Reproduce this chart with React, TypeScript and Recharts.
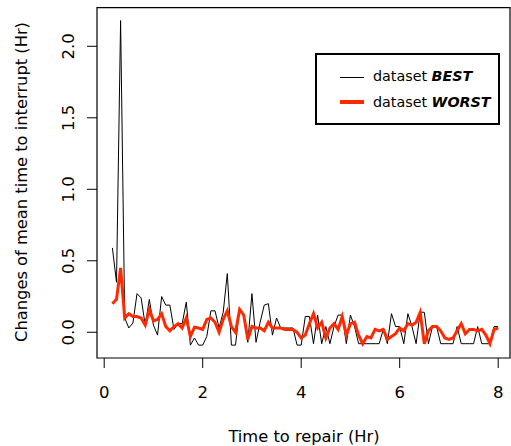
import React from 'react'
import {
  LineChart, Line, XAxis, YAxis, ReferenceArea, Legend,
} from 'recharts'

// time to repair, in minutes (converted to hours below)
const TIME_MIN = [
  10, 15, 20, 25, 30, 35, 40, 45, 50, 55,
  60, 65, 70, 75, 80, 85, 90, 95, 100, 105,
  110, 115, 120, 125, 130, 135, 140, 145, 150, 155,
  160, 165, 170, 175, 180, 185, 190, 195, 200, 205,
  210, 215, 220, 225, 230, 235, 240, 245, 250, 255,
  260, 265, 270, 275, 280, 285, 290, 295, 300, 305,
  310, 315, 320, 325, 330, 335, 340, 345, 350, 355,
  360, 365, 370, 375, 380, 385, 390, 395, 400, 405,
  410, 415, 420, 425, 430, 435, 440, 445, 450, 455,
  460, 465, 470, 475, 480,
]

const BEST = [
  0.59, 0.35, 2.18, 0.10, 0.03, 0.065, 0.27, 0.24, 0.05, 0.23,
  0.05, -0.02, 0.25, 0.19, 0.19, 0.02, 0.06, 0.06, 0.21, -0.09,
  -0.04, -0.09, -0.09, -0.03, 0.15, 0.15, 0.03, 0.14, 0.41, -0.09,
  -0.09, 0.17, 0.12, -0.07, 0.27, -0.07, 0.07, 0.19, 0.20, -0.02,
  0.10, 0.03, 0.03, 0.03, 0.03, -0.09, -0.09, 0.11, 0.11, -0.08,
  0.12, -0.08, 0.04, -0.08, 0.04, 0.12, 0.12, -0.08, 0.12, 0.04,
  -0.08, -0.08, -0.08, -0.08, -0.08, -0.08, 0.02, -0.08, 0.13, 0.04,
  0.04, -0.08, 0.13, 0.04, -0.08, 0.14, 0.14, -0.08, 0.04, 0.04,
  -0.08, -0.08, -0.08, -0.08, 0.04, -0.08, -0.08, -0.08, -0.08, 0.04,
  -0.08, -0.08, -0.08, 0.04, 0.04,
]

const WORST = [
  0.20, 0.23, 0.45, 0.10, 0.13, 0.11, 0.11, 0.10, 0.05, 0.16,
  0.08, 0.09, 0.13, 0.04, 0.01, 0.04, 0.06, 0.03, 0.10, -0.03,
  0.035, 0.03, 0.02, 0.09, 0.10, 0.07, 0.00, 0.09, 0.15, 0.04,
  0.00, 0.16, 0.12, -0.05, 0.04, 0.03, 0.03, 0.01, 0.07, 0.03,
  0.03, 0.03, 0.02, 0.02, 0.02, 0.00, -0.04, -0.02, 0.06, 0.13,
  0.03, 0.07, -0.04, 0.03, 0.06, 0.02, 0.11, -0.02, 0.06, 0.07,
  -0.02, -0.08, -0.03, -0.04, 0.02, 0.01, 0.02, -0.05, -0.03, -0.01,
  0.03, 0.01, 0.06, 0.05, 0.07, 0.14, -0.08, 0.01, 0.04, 0.04,
  0.01, -0.04, -0.05, -0.04, 0.01, 0.06, -0.01, 0.02, 0.02, 0.01,
  0.02, -0.02, -0.08, 0.02, 0.03,
]

const X_TICKS = [0, 2, 4, 6, 8]
const Y_TICKS = [0, 0.5, 1, 1.5, 2]

const X_DOMAIN: [number, number] = [-0.146, 8.24]
const Y_DOMAIN: [number, number] = [-0.18, 2.27]

const FONT = '"DejaVu Sans", sans-serif'
const RED = '#ff2a00'

const data = TIME_MIN.map((m, i) => ({ t: m / 60, best: BEST[i], worst: WORST[i] }))

const XTick = (props: any) => {
  const { x, payload } = props
  return (
    <text x={x} y={398} textAnchor="middle" fontSize={16.5} fontFamily={FONT} fill="#000">
      {payload.value}
    </text>
  )
}

const YTick = (props: any) => {
  const { y, payload } = props
  return (
    <text x={0} y={0} transform={`translate(74 ${y}) rotate(-90)`} textAnchor="middle"
      fontSize={16.5} fontFamily={FONT} fill="#000">
      {payload.value.toFixed(1)}
    </text>
  )
}

const LegendBox = () => (
  <div style={{
    width: 185, height: 72, border: '2px solid #000', background: '#fff',
    boxSizing: 'border-box', fontFamily: FONT, fontSize: 14.3, position: 'relative',
  }}>
    <div style={{ position: 'absolute', left: 23, top: 22, width: 24, height: 1, background: '#000' }} />
    <div style={{ position: 'absolute', left: 56, top: 12, lineHeight: '18px' }}>
      dataset <b><i>BEST</i></b>
    </div>
    <div style={{ position: 'absolute', left: 23, top: 45, width: 24, height: 4, background: RED }} />
    <div style={{ position: 'absolute', left: 56, top: 38, lineHeight: '18px' }}>
      dataset <b><i>WORST</i></b>
    </div>
  </div>
)

export default function App() {
  return (
    <div style={{ position: 'absolute', left: 0, top: 0, width: 511, height: 446, background: '#fff' }}>
      <LineChart width={511} height={446} data={data}
        margin={{ top: 7.7, right: 1, bottom: 28, left: 17 }}>
        <ReferenceArea x1={X_DOMAIN[0]} x2={X_DOMAIN[1]} y1={Y_DOMAIN[0]} y2={Y_DOMAIN[1]}
          fill="none" stroke="#000" strokeWidth={1.2} fillOpacity={0} strokeOpacity={1} />
        <XAxis dataKey="t" type="number" domain={X_DOMAIN} ticks={X_TICKS} allowDataOverflow
          axisLine={false} tickSize={10} tickLine={{ stroke: '#000' }} tick={XTick} height={60} />
        <YAxis type="number" domain={Y_DOMAIN} ticks={Y_TICKS} allowDataOverflow
          axisLine={false} tickSize={10} tickLine={{ stroke: '#000' }} tick={YTick} width={80} />
        <Line type="linear" dataKey="best" stroke="#000" strokeWidth={1} dot={false}
          isAnimationActive={false} />
        <Line type="linear" dataKey="worst" stroke={RED} strokeWidth={3} dot={false}
          isAnimationActive={false} />
        <Legend layout="horizontal" verticalAlign="middle" align="center"
          wrapperStyle={{ left: 315, top: 53, width: 187 }} content={LegendBox} />
        <text x={304} y={442} textAnchor="middle" fontSize={16.3} fontFamily={FONT} fill="#000">
          Time to repair (Hr)
        </text>
        <text x={0} y={0} transform="translate(27 182) rotate(-90)" textAnchor="middle"
          fontSize={16.3} fontFamily={FONT} fill="#000">
          Changes of mean time to interrupt (Hr)
        </text>
      </LineChart>
    </div>
  )
}
